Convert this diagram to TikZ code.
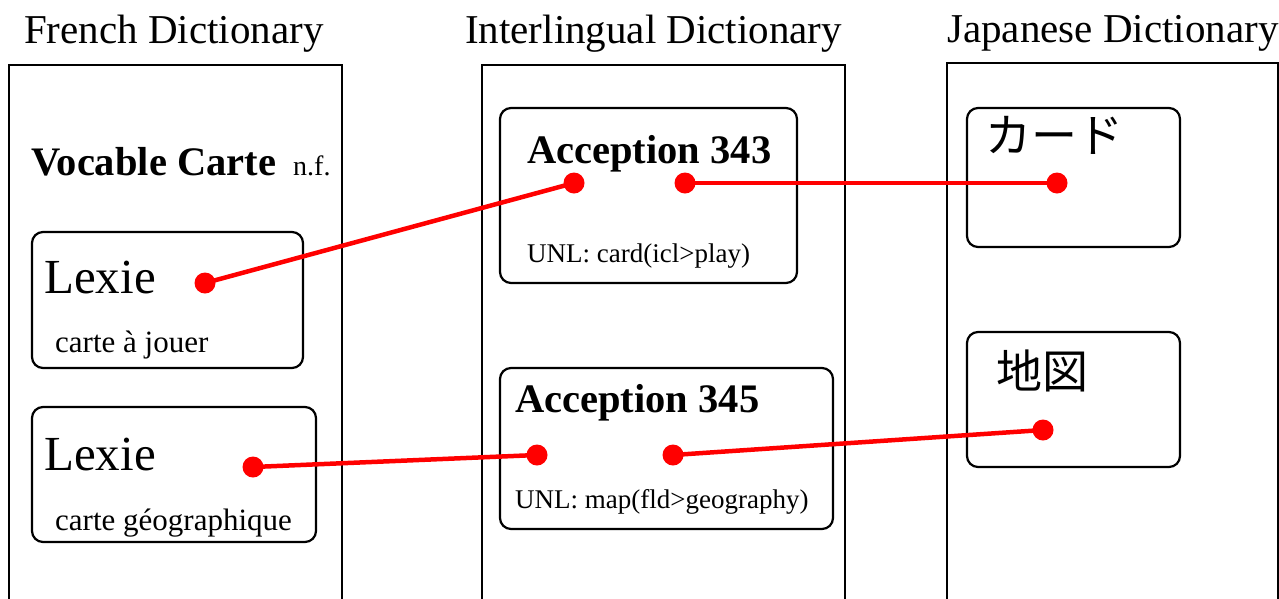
\documentclass[tikz,border=0pt]{standalone}
\usepackage{fontspec}
\setmainfont{Liberation Serif}
\newfontfamily\jpfont{Noto Sans CJK JP}
\begin{document}
\begin{tikzpicture}[x=1pt,y=-1pt,
  col/.style={line width=1.6pt,black},
  rbox/.style={line width=2.2pt,black,rounded corners=11pt},
  dot/.style={circle,fill=red,inner sep=0pt,minimum size=21pt},
  link/.style={red,line width=4.5pt},
  txt/.style={anchor=base west,inner sep=0pt,text=black},
  title/.style={txt,font=\fontsize{41}{48}\selectfont},
  big/.style={txt,font=\fontsize{49}{56}\selectfont},
  bold/.style={txt,font=\bfseries\fontsize{40.5}{46}\selectfont},
  small/.style={txt,font=\fontsize{31}{36}\selectfont},
  unl/.style={txt,font=\fontsize{27}{32}\selectfont},
  jp/.style={txt,font=\jpfont\fontsize{46}{52}\selectfont}]
\useasboundingbox[fill=white] (0,0) rectangle (1279,598);
% titles
\node[title] (tfr) at (24,43) {French Dictionary};
\node[title] (til) at (465,43) {Interlingual Dictionary};
\node[title] (tjp) at (947,42) {Japanese Dictionary};
% columns
\draw[col] (9,599) -- (9,65) -- (342,65) -- (342,599);
\draw[col] (482,599) -- (482,65) -- (845,65) -- (845,599);
\draw[col] (947,599) -- (947,63) -- (1278,63) -- (1278,599);
% French
\node[bold] (voc) at (31,175) {Vocable Carte};
\node[txt,font=\fontsize{28}{32}\selectfont] (nf) at (293,175) {n.f.};
\draw[rbox] (32,232) rectangle (303,368);
\node[big] (lex1) at (44,293) {Lexie};
\node[small] (cj) at (55,352) {carte à jouer};
\draw[rbox] (32,407) rectangle (316,542);
\node[big] (lex2) at (44,470) {Lexie};
\node[small] (cg) at (55,530) {carte géographique};
% Interlingual
\draw[rbox] (500,108) rectangle (797,283);
\node[bold] (a343) at (527,163) {Acception 343};
\node[unl] (u343) at (527,262) {UNL: card(icl>play)};
\draw[rbox] (500,368) rectangle (833,529);
\node[bold] (a345) at (515,412) {Acception 345};
\node[unl] (u345) at (515,508) {UNL: map(fld>geography)};
% Japanese
\draw[rbox] (967,108) rectangle (1180,247);
\node[jp] (card) at (985,152) {カード};
\draw[rbox] (967,332) rectangle (1180,467);
\node[jp] (map) at (996,388) {地図};
% dots
\node[dot] (d1) at (205,283) {};
\node[dot] (d2) at (574,183) {};
\node[dot] (d3) at (685,183) {};
\node[dot] (d4) at (1057,183) {};
\node[dot] (d5) at (253,467) {};
\node[dot] (d6) at (537,455) {};
\node[dot] (d7) at (673,455) {};
\node[dot] (d8) at (1043,430) {};
% links
\draw[link] (d1.center) -- (d2.center);
\draw[link,line width=3.2pt] (d3.center) -- (d4.center);
\draw[link] (d5.center) -- (d6.center);
\draw[link] (d7.center) -- (d8.center);
\end{tikzpicture}
\end{document}
